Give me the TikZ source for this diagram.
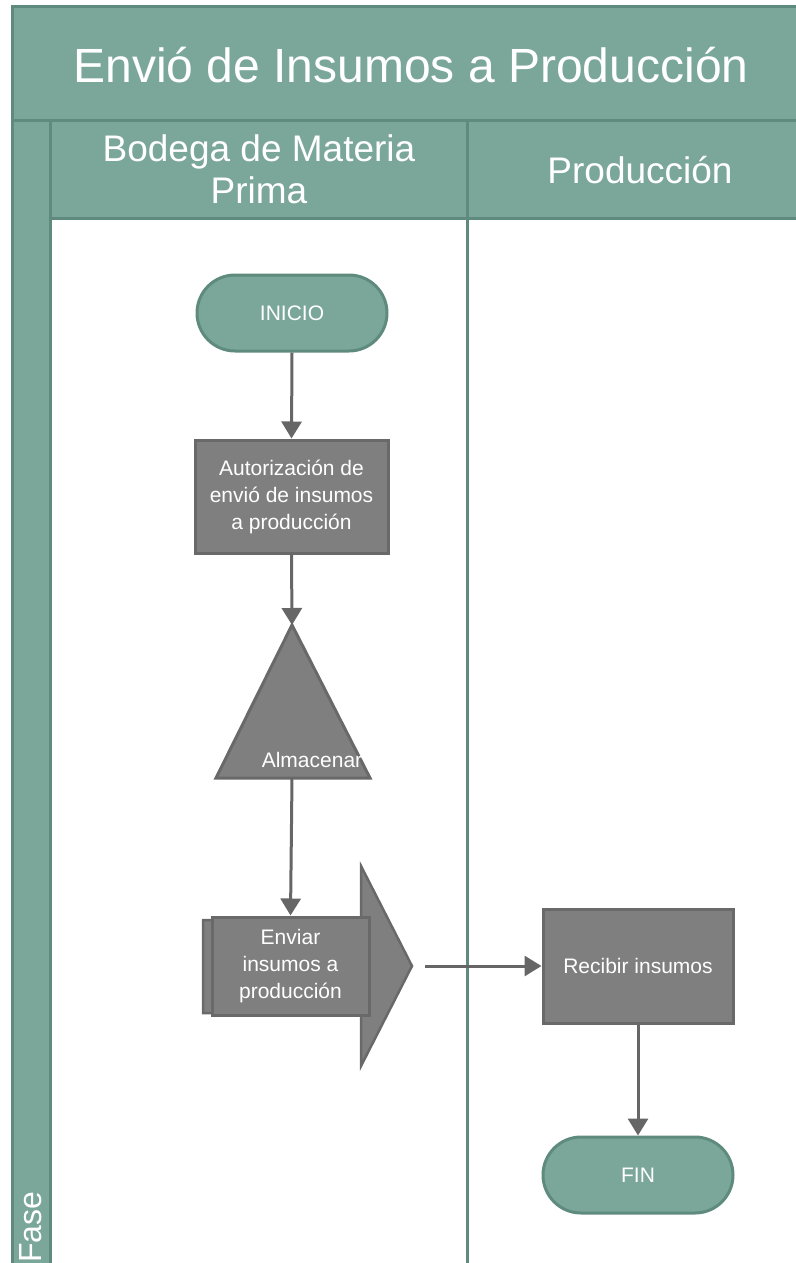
\documentclass[tikz,border=0pt]{standalone}
\usepackage{fontspec}
\setmainfont{Liberation Sans}
\usetikzlibrary{arrows.meta,positioning}

\definecolor{verde}{HTML}{7BA79A}
\definecolor{verdeosc}{HTML}{5F8B7E}
\definecolor{gris}{HTML}{7F7F7F}
\definecolor{grisosc}{HTML}{696969}
\definecolor{linea}{HTML}{666666}

\begin{document}
\begin{tikzpicture}[x=1pt,y=-1pt,
	carril/.style={fill=verde,draw=verdeosc,line width=3pt},
	terminal/.style={fill=verde,draw=verdeosc,line width=3pt,rounded corners=38pt,
		minimum width=190pt,minimum height=76pt,text=white,font=\fontsize{21}{27}\selectfont},
	proceso/.style={fill=gris,draw=grisosc,line width=3pt,minimum width=193pt,minimum height=113pt,
		text=white,align=center,font=\fontsize{21}{27}\selectfont},
	flecha/.style={draw=linea,line width=3pt,-{Triangle[length=17pt,width=20pt]}}]
	
	\useasboundingbox (0,0) rectangle (795,1263);
	
	%泳道
	\draw[carril] (12,7) rectangle (805,120);
	\draw[carril] (12,120) rectangle (50,1275);
	\draw[carril] (50,120) rectangle (467,218);
	\draw[carril] (467,120) rectangle (805,218);
	\draw[verdeosc,line width=3pt] (467,218) -- (467,1275);
	
	\node[text=white,font=\fontsize{48}{52}\selectfont] (titulo) at (411,65) {Envió de Insumos a Producción};
	\node[text=white,align=center,font=\fontsize{37}{42}\selectfont] (bodega) at (259,169) {Bodega de Materia\\Prima};
	\node[text=white,font=\fontsize{37}{42}\selectfont] (produccion) at (640,170) {Producción};
	\node[text=white,rotate=90,anchor=west,inner sep=0pt,font=\fontsize{32}{36}\selectfont] (fase) at (31,1263) {Fase};
	
	%流程
	\node[terminal] (inicio) at (292,313) {INICIO};
	\node[proceso] (autoriza) at (291.5,496.5) {Autorización de\\envió de insumos\\a producción};
	
	\coordinate (cima) at (292,625);
	\coordinate (base) at (292,778);
	\filldraw[fill=gris,draw=grisosc,line width=3pt] (cima) -- (370,778) -- (216,778) -- cycle;
	\node[text=white,font=\fontsize{21}{27}\selectfont] (almacenar) at (312,760) {Almacenar};
	
	\filldraw[fill=gris,draw=grisosc,line width=2.5pt] (203,920) -- (361,920) -- (361,866) -- (412,966)
		-- (361,1066) -- (361,1013) -- (203,1013) -- cycle;
	\node[proceso,minimum width=157pt,minimum height=98pt] (enviar) at (290.5,966) {Enviar\\insumos a\\producción};
	\coordinate (punta) at (425,966);
	
	\node[proceso,minimum width=190pt,minimum height=114pt] (recibir) at (638,966) {Recibir insumos};
	\node[terminal] (fin) at (638,1175) {FIN};
	
	\draw[flecha] (inicio.south) -- (autoriza.north);
	\draw[flecha] (autoriza.south) -- (cima);
	\draw[flecha] (base) -- (enviar.north);
	\draw[flecha] (punta) -- (recibir.west);
	\draw[flecha] (recibir.south) -- (fin.north);
	
\end{tikzpicture}
\end{document}
